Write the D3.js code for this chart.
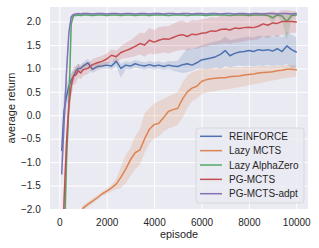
<!DOCTYPE html>
<html>
<head>
<meta charset="utf-8">
<script src="https://cdn.jsdelivr.net/npm/d3@7"></script>
<style>
  body { margin: 0; background: #fff; }
  text { font-family: "Liberation Sans", Arial, sans-serif; fill: #262626; }
</style>
</head>
<body>
<svg id="chart" width="319" height="248"></svg>
<script>
// episodes at which returns were logged
const episodes = [100, 200, 300, 400, 500, 600, 700, 800, 900, 1000,
    1200, 1400, 1600, 1800, 2000, 2200, 2400, 2600, 2800, 3000,
    3200, 3400, 3600, 3800, 4000, 4200, 4400, 4600, 4800, 5000,
    5200, 5400, 5600, 5800, 6000, 6200, 6400, 6600, 6800, 7000,
    7200, 7400, 7600, 7800, 8000, 8200, 8400, 8600, 8800, 9000,
    9200, 9400, 9600, 9800, 10000];

const reinforceMean = [-0.75, 0.1, 0.4, 0.62, 0.75, 0.83, 0.95, 1.0, 1.0, 1.05,
    1.12, 0.98, 1.04, 1.05, 1.07, 1.05, 1.15, 1.0, 1.07, 1.05,
    1.1, 1.07, 1.05, 1.08, 1.05, 1.07, 1.04, 1.07, 1.05, 1.04,
    1.08, 1.1, 1.07, 1.12, 1.18, 1.2, 1.22, 1.25, 1.3, 1.38,
    1.27, 1.32, 1.35, 1.36, 1.38, 1.36, 1.4, 1.38, 1.4, 1.37,
    1.42, 1.36, 1.48, 1.4, 1.35];
const reinforceLo = [-1.2, -0.25, 0.15, 0.42, 0.6, 0.72, 0.85, 0.9, 0.92, 0.97,
    1.03, 0.9, 0.96, 0.98, 1.0, 0.97, 1.05, 0.8, 0.98, 0.97,
    1.02, 0.99, 0.97, 1.0, 0.97, 0.99, 0.96, 0.98, 0.95, 0.93,
    0.9, 0.92, 0.95, 0.98, 1.0, 0.98, 1.0, 1.02, 1.0, 1.05,
    1.02, 1.05, 1.06, 1.05, 1.06, 1.04, 1.06, 1.05, 1.07, 1.05,
    1.08, 1.06, 1.1, 1.0, 1.02];
const reinforceHi = [-0.3, 0.45, 0.65, 0.82, 0.9, 0.95, 1.05, 1.1, 1.08, 1.13,
    1.2, 1.06, 1.12, 1.12, 1.14, 1.13, 1.23, 1.1, 1.15, 1.13,
    1.18, 1.15, 1.13, 1.16, 1.13, 1.15, 1.12, 1.16, 1.15, 1.17,
    1.3, 1.42, 1.42, 1.45, 1.5, 1.52, 1.55, 1.58, 1.6, 1.68,
    1.6, 1.62, 1.65, 1.66, 1.68, 1.66, 1.7, 1.68, 1.7, 1.68,
    1.72, 1.66, 1.78, 1.72, 1.66];

const lazyMctsMean = [-3.6, -3.4, -3.2, -3.0, -2.8, -2.6, -2.45, -2.3, -2.15, -1.98,
    -1.9, -1.83, -1.76, -1.68, -1.62, -1.55, -1.47, -1.32, -1.15, -0.95,
    -0.8, -0.74, -0.5, -0.3, -0.2, -0.17, -0.05, 0.08, 0.12, 0.15,
    0.35, 0.5, 0.58, 0.62, 0.72, 0.76, 0.78, 0.79, 0.8, 0.8,
    0.82, 0.83, 0.84, 0.86, 0.87, 0.88, 0.9, 0.91, 0.92, 0.93,
    0.95, 0.96, 0.98, 0.98, 0.97];
const lazyMctsLo = [-3.7, -3.5, -3.3, -3.1, -2.9, -2.7, -2.55, -2.4, -2.22, -2.04,
    -1.95, -1.88, -1.81, -1.73, -1.68, -1.62, -1.58, -1.55, -1.45, -1.3,
    -1.15, -1.05, -0.8, -0.6, -0.5, -0.45, -0.35, -0.28, -0.25, -0.2,
    -0.05, 0.15, 0.3, 0.36, 0.45, 0.48, 0.5, 0.52, 0.54, 0.55,
    0.56, 0.58, 0.6, 0.62, 0.64, 0.66, 0.68, 0.7, 0.72, 0.74,
    0.76, 0.78, 0.8, 0.81, 0.82];
const lazyMctsHi = [-3.5, -3.3, -3.1, -2.9, -2.7, -2.5, -2.35, -2.2, -2.08, -1.92,
    -1.85, -1.78, -1.71, -1.63, -1.56, -1.48, -1.36, -1.1, -0.85, -0.7,
    -0.45, -0.3, 0.05, 0.15, 0.25, 0.3, 0.35, 0.4, 0.45, 0.5,
    0.7, 0.85, 0.92, 0.95, 1.0, 1.0, 1.01, 1.0, 1.02, 1.01,
    1.02, 1.03, 1.02, 1.03, 1.04, 1.03, 1.04, 1.05, 1.04, 1.05,
    1.06, 1.06, 1.07, 1.07, 1.06];

const lazyAzMean = [-5.0, -3.0, -1.0, 0.2, 1.95, 2.13, 2.13, 2.14, 2.13, 2.14,
    2.14, 2.13, 2.14, 2.14, 2.13, 2.14, 2.14, 2.13, 2.14, 2.14,
    2.13, 2.14, 2.14, 2.13, 2.14, 2.14, 2.14, 2.13, 2.14, 2.14,
    2.14, 2.13, 2.14, 2.14, 2.14, 2.13, 2.14, 2.14, 2.14, 2.14,
    2.13, 2.14, 2.14, 2.14, 2.13, 2.14, 2.14, 2.14, 2.13, 2.08,
    2.14, 2.12, 2.0, 2.13, 2.14];
const lazyAzLo = [-5.3, -3.3, -1.3, -0.1, 1.8, 2.1, 2.11, 2.12, 2.11, 2.12,
    2.12, 2.11, 2.12, 2.12, 2.11, 2.12, 2.12, 2.11, 2.12, 2.12,
    2.11, 2.12, 2.12, 2.11, 2.12, 2.12, 2.12, 2.11, 2.12, 2.12,
    2.12, 2.11, 2.12, 2.12, 2.12, 2.11, 2.12, 2.12, 2.12, 2.12,
    2.11, 2.12, 2.12, 2.12, 2.11, 2.12, 2.12, 2.12, 2.1, 1.95,
    2.11, 2.0, 1.6, 2.05, 2.12];
const lazyAzHi = [-4.7, -2.7, -0.7, 0.5, 2.08, 2.15, 2.15, 2.16, 2.15, 2.16,
    2.16, 2.15, 2.16, 2.16, 2.15, 2.16, 2.16, 2.15, 2.16, 2.16,
    2.15, 2.16, 2.16, 2.15, 2.16, 2.16, 2.16, 2.15, 2.16, 2.16,
    2.16, 2.15, 2.16, 2.16, 2.16, 2.15, 2.16, 2.16, 2.16, 2.16,
    2.15, 2.16, 2.16, 2.16, 2.15, 2.16, 2.16, 2.16, 2.16, 2.17,
    2.16, 2.17, 2.18, 2.16, 2.16];

const pgMctsMean = [-3.6, -1.8, -0.6, 0.2, 0.62, 0.85, 0.86, 0.95, 0.9, 0.97,
    1.0, 1.08, 1.12, 1.15, 1.2, 1.28, 1.25, 1.34, 1.38, 1.42,
    1.47, 1.53, 1.5, 1.6, 1.56, 1.6, 1.63, 1.62, 1.66, 1.7,
    1.72, 1.68, 1.73, 1.72, 1.75, 1.76, 1.8, 1.79, 1.83, 1.84,
    1.82, 1.86, 1.85, 1.87, 1.88, 1.87, 1.9, 1.95, 1.92, 1.97,
    1.96, 2.0, 2.0, 2.0, 1.99];
const pgMctsLo = [-4.0, -2.2, -0.95, -0.1, 0.4, 0.65, 0.68, 0.8, 0.77, 0.84,
    0.88, 0.96, 1.0, 1.03, 1.08, 1.15, 1.12, 1.2, 1.22, 1.24,
    1.26, 1.3, 1.25, 1.32, 1.3, 1.32, 1.34, 1.32, 1.35, 1.38,
    1.4, 1.38, 1.42, 1.42, 1.45, 1.46, 1.5, 1.5, 1.52, 1.54,
    1.52, 1.55, 1.56, 1.58, 1.6, 1.6, 1.62, 1.68, 1.64, 1.7,
    1.68, 1.72, 1.74, 1.76, 1.76];
const pgMctsHi = [-3.2, -1.4, -0.25, 0.5, 0.85, 1.03, 1.04, 1.1, 1.03, 1.1,
    1.12, 1.2, 1.24, 1.27, 1.32, 1.41, 1.38, 1.48, 1.54, 1.6,
    1.68, 1.76, 1.75, 1.86, 1.82, 1.88, 1.9, 1.9, 1.95, 2.0,
    2.02, 1.98, 2.03, 2.02, 2.05, 2.06, 2.1, 2.08, 2.12, 2.13,
    2.11, 2.15, 2.14, 2.16, 2.16, 2.15, 2.17, 2.2, 2.19, 2.22,
    2.2, 2.24, 2.24, 2.23, 2.22];

const pgAdptMean = [-1.25, -0.15, 0.9, 1.75, 2.1, 2.15, 2.16, 2.17, 2.16, 2.17,
    2.17, 2.16, 2.17, 2.17, 2.16, 2.17, 2.17, 2.16, 2.17, 2.17,
    2.16, 2.17, 2.17, 2.16, 2.17, 2.17, 2.16, 2.17, 2.17, 2.16,
    2.17, 2.17, 2.16, 2.17, 2.17, 2.16, 2.17, 2.17, 2.16, 2.17,
    2.17, 2.16, 2.17, 2.17, 2.16, 2.17, 2.17, 2.16, 2.17, 2.17,
    2.16, 2.17, 2.17, 2.16, 2.17];
const pgAdptLo = [-1.45, -0.5, 0.6, 1.6, 2.04, 2.13, 2.15, 2.16, 2.15, 2.16,
    2.16, 2.15, 2.16, 2.16, 2.15, 2.16, 2.16, 2.15, 2.16, 2.16,
    2.15, 2.16, 2.16, 2.15, 2.16, 2.16, 2.15, 2.16, 2.16, 2.15,
    2.16, 2.16, 2.15, 2.16, 2.16, 2.15, 2.16, 2.16, 2.15, 2.16,
    2.16, 2.15, 2.16, 2.16, 2.15, 2.16, 2.16, 2.15, 2.16, 2.16,
    2.15, 2.16, 2.16, 2.15, 2.16];
const pgAdptHi = [-0.9, 0.2, 1.2, 1.9, 2.15, 2.17, 2.17, 2.18, 2.17, 2.18,
    2.18, 2.17, 2.18, 2.18, 2.17, 2.18, 2.18, 2.17, 2.18, 2.18,
    2.17, 2.18, 2.18, 2.17, 2.18, 2.18, 2.17, 2.18, 2.18, 2.17,
    2.18, 2.18, 2.17, 2.18, 2.18, 2.17, 2.18, 2.18, 2.17, 2.18,
    2.18, 2.17, 2.18, 2.18, 2.17, 2.18, 2.18, 2.17, 2.18, 2.18,
    2.17, 2.18, 2.18, 2.17, 2.18];

const seriesNames = ["REINFORCE", "Lazy MCTS", "Lazy AlphaZero", "PG-MCTS", "PG-MCTS-adpt"];
const seriesColors = ["#4C72B0", "#DD8452", "#55A868", "#C44E52", "#8172B3"];
const xTicks = [0, 2000, 4000, 6000, 8000, 10000];
const yTicks = [-2.0, -1.5, -1.0, -0.5, 0.0, 0.5, 1.0, 1.5, 2.0];

const series = [
    [reinforceMean, reinforceLo, reinforceHi],
    [lazyMctsMean, lazyMctsLo, lazyMctsHi],
    [lazyAzMean, lazyAzLo, lazyAzHi],
    [pgMctsMean, pgMctsLo, pgMctsHi],
    [pgAdptMean, pgAdptLo, pgAdptHi]
].map(function (s, k) {
    return {
        name: seriesNames[k],
        color: seriesColors[k],
        values: episodes.map(function (e, i) {
            return { ep: e, mean: s[0][i], lo: s[1][i], hi: s[2][i] };
        })
    };
});

var margin = { top: 7, right: 11, bottom: 39, left: 50 };
var width = 319 - margin.left - margin.right;
var height = 248 - margin.top - margin.bottom;

var svg = d3.select("#chart");
var g = svg.append("g").attr("transform", "translate(" + margin.left + "," + margin.top + ")");

var x = d3.scaleLinear().domain([-395, 10495]).range([0, width]);
var y = d3.scaleLinear().domain([-2.0, 2.31]).range([height, 0]);

g.append("rect")
    .attr("width", width)
    .attr("height", height)
    .attr("fill", "#EAEAF2");

g.append("clipPath").attr("id", "plotclip")
    .append("rect").attr("width", width).attr("height", height);

var xAxis = g.append("g")
    .attr("class", "x axis")
    .attr("transform", "translate(0," + height + ")")
    .call(d3.axisBottom(x).tickValues(xTicks).tickSize(-height).tickPadding(9.5)
        .tickFormat(d3.format("d")));

var yAxis = g.append("g")
    .attr("class", "y axis")
    .call(d3.axisLeft(y).tickValues(yTicks).tickSize(-width).tickPadding(9.3)
        .tickFormat(d3.format(".1f")));

[xAxis, yAxis].forEach(function (a) {
    a.select(".domain").remove();
    a.selectAll(".tick line").attr("stroke", "#ffffff").attr("stroke-width", 1);
    a.selectAll(".tick text")
        .attr("fill", "#262626")
        .style("font-size", "10px")
        .style("font-family", "'Liberation Sans', Arial, sans-serif");
});

var band = d3.area()
    .x(function (d) { return x(d.ep); })
    .y0(function (d) { return y(d.lo); })
    .y1(function (d) { return y(d.hi); });

var line = d3.line()
    .x(function (d) { return x(d.ep); })
    .y(function (d) { return y(d.mean); });

var plot = g.append("g").attr("clip-path", "url(#plotclip)");

series.forEach(function (s) {
    plot.append("path")
        .attr("d", band(s.values))
        .attr("fill", s.color)
        .attr("fill-opacity", 0.2)
        .attr("stroke", "none");
    plot.append("path")
        .attr("d", line(s.values))
        .attr("fill", "none")
        .attr("stroke", s.color)
        .attr("stroke-width", 1.5)
        .attr("stroke-linejoin", "round")
        .attr("stroke-linecap", "round");
});

// axis labels
svg.append("text")
    .attr("x", margin.left + width / 2)
    .attr("y", 237.5)
    .attr("text-anchor", "middle")
    .style("font-size", "10.9px")
    .text("episode");

svg.append("text")
    .attr("transform", "translate(15," + (margin.top + height / 2) + ") rotate(-90)")
    .attr("text-anchor", "middle")
    .style("font-size", "10.9px")
    .text("average return");

// legend
var legend = svg.append("g").attr("transform", "translate(196,128)");
legend.append("rect")
    .attr("width", 108)
    .attr("height", 75)
    .attr("rx", 3)
    .attr("fill", "#EAEAF2")
    .attr("fill-opacity", 0.8)
    .attr("stroke", "#CCCCCC")
    .attr("stroke-opacity", 0.8)
    .attr("stroke-width", 0.8);

var items = legend.selectAll(".item")
    .data(series)
    .enter().append("g")
    .attr("class", "item")
    .attr("transform", function (d, i) { return "translate(0," + (8.3 + i * 14.35) + ")"; });

items.append("line")
    .attr("x1", 4).attr("x2", 26)
    .attr("stroke", function (d) { return d.color; })
    .attr("stroke-width", 1.5);

items.append("text")
    .attr("x", 33)
    .attr("dy", "0.35em")
    .style("font-size", "10px")
    .text(function (d) { return d.name; });
</script>
</body>
</html>
